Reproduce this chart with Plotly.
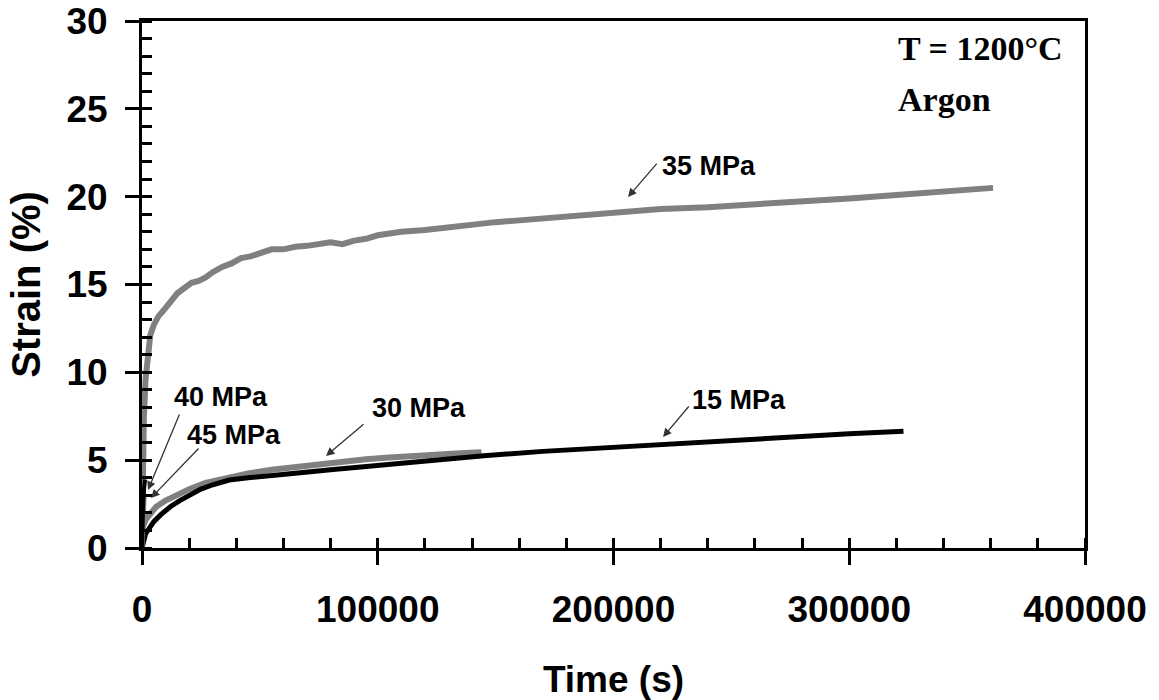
import plotly.graph_objects as go

# ---- data ----
t35 = [0, 300, 800, 1500, 2500, 3500, 5000, 7000, 9000, 12000, 15000, 18000, 21000, 24000,
       27000, 30000, 34000, 38000, 42000, 46000, 50000, 55000, 60000, 65000, 70000, 75000,
       80000, 85000, 90000, 95000, 100000, 105000, 110000, 120000, 130000, 140000, 150000,
       160000, 175000, 190000, 205000, 220000, 240000, 260000, 280000, 300000, 320000,
       340000, 361000]
s35 = [0.5, 4.0, 7.5, 9.6, 11.2, 12.1, 12.7, 13.2, 13.5, 14.0, 14.5, 14.8, 15.1, 15.2,
       15.4, 15.7, 16.0, 16.2, 16.5, 16.6, 16.8, 17.0, 17.0, 17.15, 17.2, 17.3,
       17.4, 17.3, 17.5, 17.6, 17.8, 17.9, 18.0, 18.1, 18.25, 18.45, 18.55,
       18.65, 18.8, 19.0, 19.15, 19.3, 19.4, 19.55, 19.7, 19.9, 20.1,
       20.3, 20.5]

t30 = [0, 300, 1500, 3500, 6000, 10000, 15000, 20000, 27000, 35000, 45000, 55000, 65000,
       75000, 85000, 95000, 105000, 115000, 125000, 135000, 144000]
s30 = [0.2, 1.2, 1.6, 2.0, 2.35, 2.7, 3.05, 3.35, 3.7, 3.95, 4.25, 4.45, 4.6,
       4.8, 4.95, 5.05, 5.15, 5.25, 5.3, 5.4, 5.45]

t15 = [0, 500, 1500, 3000, 5000, 8000, 12000, 16000, 20000, 25000, 30000, 37000, 45000,
       55000, 65000, 80000, 100000, 120000, 145000, 170000, 195000, 220000, 240000,
       260000, 280000, 300000, 323000]
s15 = [0, 0.4, 0.8, 1.1, 1.5, 1.9, 2.35, 2.7, 3.0, 3.35, 3.6, 3.87, 4.0,
       4.1, 4.25, 4.45, 4.7, 4.95, 5.25, 5.5, 5.7, 5.9, 6.05,
       6.2, 6.35, 6.5, 6.65]

t40 = [0, 200, 500, 900, 1300]
s40 = [0, 1.5, 2.6, 3.4, 3.9]

t45 = [0, 200, 500, 900]
s45 = [0, 1.2, 2.2, 3.0]

x_ticks = [0, 100000, 200000, 300000, 400000]
y_ticks = [0, 5, 10, 15, 20, 25, 30]

GRAY = "#808080"
BLACK = "#000000"
FONT = "Liberation Sans"

fig = go.Figure()
fig.add_trace(go.Scatter(x=t35, y=s35, mode="lines", line=dict(color=GRAY, width=6), name="35 MPa"))
fig.add_trace(go.Scatter(x=t30, y=s30, mode="lines", line=dict(color=GRAY, width=6), name="30 MPa"))
fig.add_trace(go.Scatter(x=t15, y=s15, mode="lines", line=dict(color=BLACK, width=5), name="15 MPa"))
fig.add_trace(go.Scatter(x=t45, y=s45, mode="lines", line=dict(color=GRAY, width=5), name="45 MPa"))
fig.add_trace(go.Scatter(x=t40, y=s40, mode="lines", line=dict(color=BLACK, width=4), name="40 MPa"))
# invisible trace on secondary axes so they render
fig.add_trace(go.Scatter(x=[0], y=[0], xaxis="x2", yaxis="y2", mode="markers",
                         marker=dict(opacity=0), showlegend=False, hoverinfo="skip"))

fig.update_layout(
    width=1159, height=700,
    margin=dict(l=142, r=74, t=21, b=152),
    paper_bgcolor="white", plot_bgcolor="white",
    showlegend=False,
    xaxis=dict(range=[0, 400000], tickvals=x_ticks, ticktext=[str(v) for v in x_ticks],
               automargin=False,
               showgrid=False, zeroline=False, showline=True, linecolor="black", linewidth=3,
               mirror=True, ticks="outside", ticklen=14, tickwidth=3, tickcolor="black",
               ticklabelstandoff=13,
               minor=dict(ticks="inside", dtick=20000, ticklen=10, tickwidth=3, tickcolor="black"),
               tickfont=dict(family=FONT, size=37, color="black", weight="bold"),
               title=dict(text="Time (s)", font=dict(family=FONT, size=37, color="black", weight="bold"),
                          standoff=47)),
    yaxis=dict(range=[0, 30], tickvals=y_ticks,
               automargin=False,
               showgrid=False, zeroline=False, showline=True, linecolor="black", linewidth=3,
               mirror=True, ticks="outside", ticklen=14, tickwidth=3, tickcolor="black",
               ticklabelstandoff=10,
               minor=dict(ticks="inside", dtick=1, ticklen=10, tickwidth=3, tickcolor="black"),
               tickfont=dict(family=FONT, size=37, color="black", weight="bold"),
               title=dict(text="Strain (%)", font=dict(family=FONT, size=40, color="black", weight="bold"),
                          standoff=14)),
    xaxis2=dict(range=[0, 400000], overlaying="x", side="bottom", tickvals=x_ticks,
                automargin=False,
                showticklabels=False, ticks="inside", ticklen=10, tickwidth=3, tickcolor="black",
                showgrid=False, zeroline=False, showline=False),
    yaxis2=dict(range=[0, 30], overlaying="y", side="left", tickvals=y_ticks,
                automargin=False,
                showticklabels=False, ticks="inside", ticklen=10, tickwidth=3, tickcolor="black",
                showgrid=False, zeroline=False, showline=False),
)

lab_font = dict(family=FONT, size=27, color="black", weight="bold")
labels = [
    ("35 MPa", 219700, 21.75),
    ("30 MPa", 96700, 7.97),
    ("15 MPa", 232450, 8.42),
    ("40 MPa", 12700, 8.62),
    ("45 MPa", 18240, 6.42),
]
for txt, x, y in labels:
    fig.add_annotation(x=x, y=y, xref="x", yref="y", text=txt, showarrow=False,
                       xanchor="left", yanchor="middle", font=lab_font)

arrows = [
    (206160, 19.98, 218900, 21.97),
    (78050, 5.24, 94600, 7.12),
    (221000, 6.32, 232450, 8.14),
    (2545, 3.30, 16120, 7.68),
    (3820, 2.85, 24600, 5.75),
]
for x, y, ax, ay in arrows:
    fig.add_annotation(x=x, y=y, ax=ax, ay=ay, xref="x", yref="y", axref="x", ayref="y",
                       text="", showarrow=True, arrowhead=2, arrowsize=1.3, arrowwidth=1.3,
                       arrowcolor="#333333")

serif = dict(family="Liberation Serif", size=34, color="black", weight="bold")
fig.add_annotation(x=319850, y=28.45, xref="x", yref="y", text="T = 1200°C", showarrow=False,
                   xanchor="left", yanchor="middle", font=serif)
fig.add_annotation(x=319850, y=25.55, xref="x", yref="y", text="Argon", showarrow=False,
                   xanchor="left", yanchor="middle", font=serif)

fig.write_html("out.html")
